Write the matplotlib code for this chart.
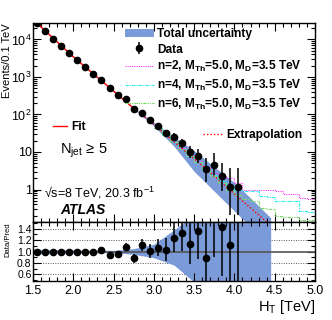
import numpy as np
import matplotlib
matplotlib.use('Agg')
import matplotlib.pyplot as plt
from matplotlib.patches import Patch
from matplotlib.lines import Line2D
from matplotlib.ticker import FixedLocator, FuncFormatter, LogLocator, MultipleLocator, NullFormatter

plt.rcParams['font.family'] = ['Liberation Sans', 'DejaVu Sans']
plt.rcParams['mathtext.fontset'] = 'custom'
plt.rcParams['mathtext.rm'] = 'Liberation Sans'
plt.rcParams['mathtext.it'] = 'Liberation Sans:italic'
plt.rcParams['mathtext.bf'] = 'Liberation Sans:bold'
plt.rcParams['mathtext.default'] = 'regular'

# ---------------- data ----------------
ht = [1.55, 1.65, 1.75, 1.85, 1.95, 2.05, 2.15, 2.25, 2.35, 2.45, 2.55, 2.65, 2.75,
      2.85, 2.95, 3.05, 3.15, 3.25, 3.35, 3.45, 3.55, 3.65, 3.75, 3.85, 3.95, 4.05]
events = [27000, 16600, 10300, 6700, 4290, 2790, 1850, 1200, 817, 500, 337, 254, 143,
          112, 71, 49, 32, 25.6, 17, 10.2, 7.8, 3.5, 4.5, 2.3, 1.17, 1.17]
err_lo = [164, 129, 101, 82, 65, 53, 43, 35, 29, 22, 18, 16, 12,
          10.6, 8.4, 7.0, 5.6, 5.0, 4.0, 3.2, 2.8, 1.9, 2.1, 1.4, 0.96, 0.96]
err_hi = [164, 129, 101, 82, 65, 53, 43, 35, 29, 22, 18, 16, 12,
          10.6, 8.4, 7.0, 6.7, 6.0, 5.2, 4.3, 3.9, 3.3, 5.0, 2.9, 2.5, 2.5]
ratio = [1.0, 1.0, 1.0, 1.0, 1.0, 1.0, 1.0, 1.0, 1.03, 0.93, 0.95, 1.08, 0.88,
         1.11, 1.01, 1.07, 1.02, 1.24, 1.32, 1.13, 1.36, 0.88, 1.7, 1.44, 1.11, 1.6]

fit_x = [1.5, 2.0, 2.5, 2.75, 3.0, 3.25, 3.5, 3.75, 4.0, 4.25, 4.45]
fit_y = [34000, 3460, 420, 146, 55, 18.7, 6.6, 2.25, 0.76, 0.26, 0.11]
fit_end = 2.75
band_hi = [1.04, 1.03, 1.02, 1.05, 1.13, 1.38, 1.65, 1.8, 2.0, 1.8, 1.6]
band_lo = [0.96, 0.97, 0.98, 0.95, 0.89, 0.76, 0.46, 0.40, 0.35, 0.30, 0.30]

sig_edges = [3.0, 3.1, 3.2, 3.3, 3.4, 3.5, 3.6, 3.7, 3.8, 3.9, 4.0,
             4.1, 4.2, 4.3, 4.4, 4.5, 4.6, 4.7, 4.8, 4.9, 5.0]
sig_n2 = [44, 29, 19, 12.5, 8.3, 5.6, 4.0, 2.8, 2.3, 2.0, 1.5,
          1.0, 0.98, 0.96, 0.95, 0.93, 0.78, 0.76, 0.58, 0.56]
sig_n4 = [44, 29, 19, 12.2, 8.0, 5.4, 3.6, 2.4, 1.7, 1.25, 0.96,
          0.93, 0.9, 0.68, 0.65, 0.5, 0.5, 0.48, 0.26, 0.25]
sig_n6 = [44, 29, 19, 12.2, 8.0, 5.3, 3.5, 2.3, 1.5, 1.0, 0.72,
          0.56, 0.48, 0.32, 0.30, 0.20, 0.19, 0.18, 0.15, 0.15]

band_color = '#7b9bd8'

# ---------------- figure ----------------
fig = plt.figure(figsize=(3.32, 3.20), dpi=100)
L, W = 33 / 332, 282 / 332
ax = fig.add_axes([L, 1 - 222 / 320, W, 199 / 320])
axr = fig.add_axes([L, 1 - 281.3 / 320, W, 59.3 / 320], sharex=ax)

fx = np.array(fit_x)
fy = np.array(fit_y)
ax.fill_between(fx, fy * np.array(band_lo), fy * np.array(band_hi),
                color=band_color, lw=0, zorder=1)
m = fx <= fit_end
ax.plot(fx[m], fy[m], color='red', lw=1.0, zorder=3)
ax.plot(fx[fx >= fit_end], fy[fx >= fit_end], color='red', lw=1.0, ls=(0, (1, 1.5)), zorder=3)

ax.stairs(sig_n2, sig_edges, baseline=None, color='#ff33ff', lw=0.8, ls=(0, (1, 1)), zorder=2)
ax.stairs(sig_n4, sig_edges, baseline=None, color='#22eeee', lw=0.8, ls=(0, (3, 1, 1, 1)), zorder=2)
ax.stairs(sig_n6, sig_edges, baseline=None, color='#77dd66', lw=0.8, ls=(0, (3, 1, 1, 1, 1, 1)), zorder=2)

eb = ax.errorbar(ht, events, yerr=[err_lo, err_hi], fmt='o', color='black', ms=4.5,
                 elinewidth=1.1, capsize=0, zorder=4)

ax.set_yscale('log')
ax.set_xlim(1.5, 5.0)
ax.set_ylim(0.136, 2.75e4)
ax.yaxis.set_major_locator(FixedLocator([1, 10, 100, 1000, 10000]))
labs = {1: '1', 10: '10', 100: '$10^{2}$', 1000: '$10^{3}$', 10000: '$10^{4}$'}
ax.yaxis.set_major_formatter(FuncFormatter(lambda v, p: labs.get(int(round(v)), '')))
ax.yaxis.set_minor_locator(LogLocator(base=10, subs=np.arange(2, 10), numticks=20))
ax.yaxis.set_minor_formatter(NullFormatter())
ax.xaxis.set_major_locator(MultipleLocator(0.5))
ax.xaxis.set_minor_locator(MultipleLocator(0.1))
ax.tick_params(which='both', direction='in', top=True, right=True, labelbottom=False, width=0.8)
ax.tick_params(which='major', length=6, labelsize=9, pad=1)
ax.tick_params(which='minor', length=3)
ax.set_ylabel('Events/0.1 TeV', fontsize=8, loc='top')
ax.yaxis.set_label_coords(-0.076, 1.0)

# legends
h_band = Patch(facecolor=band_color, edgecolor='none')
h2 = Line2D([], [], color='#ff33ff', lw=0.8, ls=(0, (1, 1)))
h4 = Line2D([], [], color='#22eeee', lw=0.8, ls=(0, (3, 1, 1, 1)))
h6 = Line2D([], [], color='#77dd66', lw=0.8, ls=(0, (3, 1, 1, 1, 1, 1)))
leg1 = ax.legend([h_band, eb, h2, h4, h6],
                 ['Total uncertainty', 'Data',
                  'n=2, M$_{Th}$=5.0, M$_{D}$=3.5 TeV',
                  'n=4, M$_{Th}$=5.0, M$_{D}$=3.5 TeV',
                  'n=6, M$_{Th}$=5.0, M$_{D}$=3.5 TeV'],
                 loc='upper left', bbox_to_anchor=((125 - 33) / 282, (222 - 28) / 199),
                 frameon=False, prop={'weight': 'bold', 'size': 8.6},
                 handlelength=2.4, handletextpad=0.3, labelspacing=0.3,
                 borderaxespad=0, borderpad=0)
ax.add_artist(leg1)
leg2 = ax.legend([Line2D([], [], color='red', lw=1.0)], ['Fit'],
                 loc='center left', bbox_to_anchor=((53 - 33) / 282, (222 - 127) / 199),
                 frameon=False, prop={'weight': 'bold', 'size': 8.6},
                 handlelength=1.2, handletextpad=0.3, borderaxespad=0, borderpad=0)
ax.add_artist(leg2)
leg3 = ax.legend([Line2D([], [], color='red', lw=1.0, ls=(0, (1, 1.5)))], ['Extrapolation'],
                 loc='center left', bbox_to_anchor=((203 - 33) / 282, (222 - 135) / 199),
                 frameon=False, prop={'weight': 'bold', 'size': 8.6},
                 handlelength=1.6, handletextpad=0.35, borderaxespad=0, borderpad=0)

ax.text((60 - 33) / 282, (222 - 151) / 199, 'N$_{jet}$ \u2265 5', transform=ax.transAxes,
        fontsize=10.5, va='center', ha='left')
ax.text((44 - 33) / 282, (222 - 193) / 199, '\u221as=8 TeV, 20.3 fb$^{-1}$',
        transform=ax.transAxes, fontsize=9, va='center', ha='left')
ax.text((60 - 33) / 282, (222 - 209.5) / 199, 'ATLAS', transform=ax.transAxes,
        fontsize=10, fontweight='bold', fontstyle='italic', va='center', ha='left')

# ratio panel
axr.fill_between(fx, band_lo, band_hi, color=band_color, lw=0, zorder=1)
for yv in [0.6, 0.8, 1.2, 1.4]:
    axr.axhline(yv, color='#555555', lw=0.7, ls=(0, (1, 1.5)), zorder=0)
axr.axhline(1.0, color='#555555', lw=1.2, zorder=2)
ev = np.array(events)
rr = np.array(ratio)
axr.errorbar(ht, ratio, yerr=[rr * np.array(err_lo) / ev, rr * np.array(err_hi) / ev],
             fmt='o', color='black', ms=4.5, elinewidth=1.1, capsize=0, zorder=4)
axr.set_ylim(0.475, 1.52)
axr.yaxis.set_major_locator(FixedLocator([0.6, 0.8, 1.0, 1.2, 1.4]))
axr.yaxis.set_major_formatter(FuncFormatter(lambda v, p: '%.1f' % v))
axr.yaxis.set_minor_locator(MultipleLocator(0.1))
axr.tick_params(which='both', direction='in', top=True, right=True, width=0.8)
axr.tick_params(which='major', length=6, pad=2)
axr.tick_params(axis='y', which='major', labelsize=7.5, pad=1)
axr.tick_params(axis='x', which='major', labelsize=9, pad=3)
axr.tick_params(which='minor', length=3)
axr.set_ylabel('Data/Pred', fontsize=5.5, loc='top')
axr.yaxis.set_label_coords(-0.075, 1.0)
axr.set_xlabel('H$_{T}$ [TeV]', fontsize=10.5, loc='right')
axr.xaxis.set_label_coords(1.0, -0.28)

for a in (ax, axr):
    for s in a.spines.values():
        s.set_linewidth(1.0)

fig.savefig('out.png', dpi=100)
